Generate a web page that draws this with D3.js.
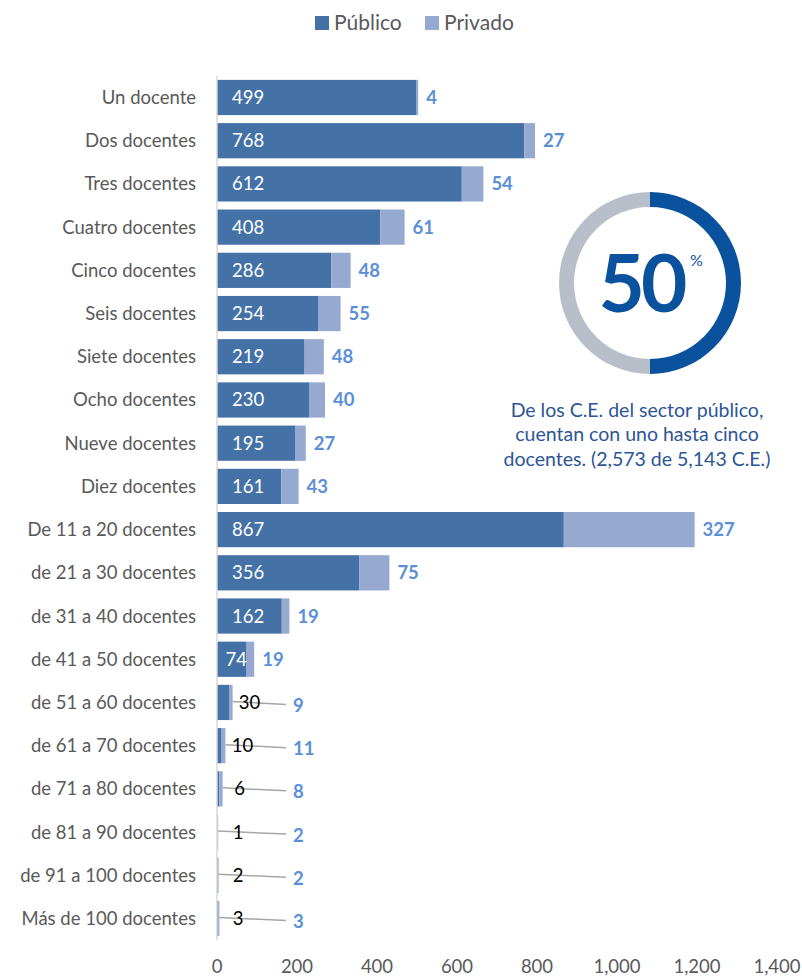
<!DOCTYPE html>
<html>
<head>
<meta charset="utf-8">
<script src="https://cdn.jsdelivr.net/npm/d3@7"></script>
<style>
  body { margin: 0; background: #fff; }
  svg text { font-family: "Lato", "Open Sans", sans-serif; }
</style>
</head>
<body>
<div id="chart"></div>
<script>
/* Data */
const categories = [
  "Un docente", "Dos docentes", "Tres docentes", "Cuatro docentes", "Cinco docentes",
  "Seis docentes", "Siete docentes", "Ocho docentes", "Nueve docentes", "Diez docentes",
  "De 11 a 20 docentes", "de 21 a 30 docentes", "de 31 a 40 docentes", "de 41 a 50 docentes",
  "de 51 a 60 docentes", "de 61 a 70 docentes", "de 71 a 80 docentes", "de 81 a 90 docentes",
  "de 91 a 100 docentes", "Más de 100 docentes"
];
const publico = [499, 768, 612, 408, 286, 254, 219, 230, 195, 161, 867, 356, 162, 74, 30, 10, 6, 1, 2, 3];
const privado = [4, 27, 54, 61, 48, 55, 48, 40, 27, 43, 327, 75, 19, 19, 9, 11, 8, 2, 2, 3];
const xTicks = [0, 200, 400, 600, 800, 1000, 1200, 1400];
const seriesNames = ["Público", "Privado"];
const donutShare = [50, 50];  // publico hasta cinco docentes vs resto
const donutNote = ["De los C.E. del sector público,", "cuentan con uno hasta cinco", "docentes. (2,573 de 5,143 C.E.)"];

/* Dimensions */
const width = 802, height = 979;
const margin = { top: 76, right: 25, bottom: 40, left: 217 };

const colorPub = "#4472a6";
const colorPriv = "#95a9d1";
const labelBlue = "#5b8fd8";
const gray = "#595959";
const fs = "18.5px";

const rows = categories.map((c, i) => ({ cat: c, pub: publico[i], priv: privado[i] }));

const svg = d3.select("#chart").append("svg")
  .attr("width", width)
  .attr("height", height);

/* Scales */
const x = d3.scaleLinear()
  .domain([0, 1400])
  .range([margin.left, margin.left + 560]);

const y = d3.scaleBand()
  .domain(categories)
  .range([margin.top, 940])
  .paddingInner(0.185)
  .paddingOuter(0.09);

const bh = y.bandwidth();

// Bars
svg.selectAll(".bar-pub")
  .data(rows)
  .enter()
  .append("rect")
  .attr("class", "bar-pub")
  .attr("x", x(0))
  .attr("y", d => y(d.cat))
  .attr("width", d => x(d.pub) - x(0))
  .attr("height", bh)
  .attr("fill", colorPub);

svg.selectAll(".bar-priv")
  .data(rows)
  .enter()
  .append("rect")
  .attr("class", "bar-priv")
  .attr("x", d => x(d.pub))
  .attr("y", d => y(d.cat))
  .attr("width", d => x(d.pub + d.priv) - x(d.pub))
  .attr("height", bh)
  .attr("fill", colorPriv);

// Y axis line
svg.append("line")
  .attr("x1", x(0)).attr("x2", x(0))
  .attr("y1", margin.top).attr("y2", 940)
  .attr("stroke", "#d9d9d9")
  .attr("stroke-width", 1.5);

// Category labels
svg.selectAll(".cat")
  .data(rows)
  .enter()
  .append("text")
  .attr("x", 196)
  .attr("y", d => y(d.cat) + bh / 2)
  .attr("dy", "0.35em")
  .attr("text-anchor", "end")
  .attr("fill", gray)
  .style("font-size", fs)
  .text(d => d.cat);

// X tick labels
svg.selectAll(".xtick")
  .data(xTicks)
  .enter()
  .append("text")
  .attr("x", d => x(d))
  .attr("y", 967)
  .attr("dy", "0.35em")
  .attr("text-anchor", "middle")
  .attr("fill", gray)
  .style("font-size", fs)
  .text(d => d3.format(",")(d));

// small bars get labels outside with a leader line
const isSmall = d => d.pub < 50;
const privStart = x(0) + 76;

svg.selectAll(".leader")
  .data(rows.filter(isSmall))
  .enter()
  .append("line")
  .attr("x1", d => x(d.pub + d.priv))
  .attr("y1", d => y(d.cat) + bh / 2 - 1)
  .attr("x2", privStart - 7)
  .attr("y2", d => y(d.cat) + bh / 2 + 2)
  .attr("stroke", "#a6a6a6")
  .attr("stroke-width", 1.5);

// Public labels
svg.selectAll(".lbl-pub")
  .data(rows)
  .enter()
  .append("text")
  .attr("x", d => isSmall(d)
    ? Math.max(x(d.pub + d.priv) + 17, x(0) + 21)
    : Math.min(x(0) + 15, x(d.pub) - 21))
  .attr("y", d => y(d.cat) + bh / 2)
  .attr("dy", "0.35em")
  .attr("text-anchor", d => isSmall(d) ? "middle" : "start")
  .attr("fill", d => isSmall(d) ? "#000" : "#fff")
  .style("font-size", fs)
  .text(d => d.pub);

// Private labels
svg.selectAll(".lbl-priv")
  .data(rows)
  .enter()
  .append("text")
  .attr("x", d => isSmall(d) ? privStart : x(d.pub + d.priv) + 8)
  .attr("y", d => y(d.cat) + bh / 2 + (isSmall(d) ? 3 : 0))
  .attr("dy", "0.35em")
  .attr("fill", labelBlue)
  .style("font-size", fs)
  .style("font-weight", "bold")
  .text(d => d.priv);

// Legend
const legend = svg.append("g").attr("transform", "translate(315,23)");
const legendX = [0, 110];
seriesNames.forEach((s, i) => {
  legend.append("rect")
    .attr("x", legendX[i])
    .attr("y", -7)
    .attr("width", 14)
    .attr("height", 14)
    .attr("fill", i === 0 ? colorPub : colorPriv);
  legend.append("text")
    .attr("x", legendX[i] + 19)
    .attr("y", 0)
    .attr("dy", "0.35em")
    .attr("fill", gray)
    .style("font-size", "21px")
    .text(s);
});

// Donut
const donut = svg.append("g").attr("transform", "translate(650,283)");
const pie = d3.pie().sort(null).value(d => d);
const arc = d3.arc().innerRadius(76).outerRadius(91);
donut.selectAll("path")
  .data(pie(donutShare))
  .enter()
  .append("path")
  .attr("d", arc)
  .attr("fill", (d, i) => i === 0 ? "#0a529e" : "#b9bfc9");

donut.append("text")
  .attr("x", -9)
  .attr("y", 29)
  .attr("text-anchor", "middle")
  .attr("fill", "#0a529e")
  .style("font-size", "80px")
  .style("font-weight", "bold")
  .style("letter-spacing", "-4px")
  .text(donutShare[0]);

donut.append("text")
  .attr("x", 40)
  .attr("y", -17)
  .attr("fill", "#0a529e")
  .style("font-size", "16px")
  .text("%");

svg.selectAll(".note")
  .data(donutNote)
  .enter()
  .append("text")
  .attr("x", 637)
  .attr("y", (d, i) => 410 + i * 24.5)
  .attr("dy", "0.35em")
  .attr("text-anchor", "middle")
  .attr("fill", "#2c5596")
  .style("font-size", "19.5px")
  .text(d => d);
</script>
</body>
</html>
